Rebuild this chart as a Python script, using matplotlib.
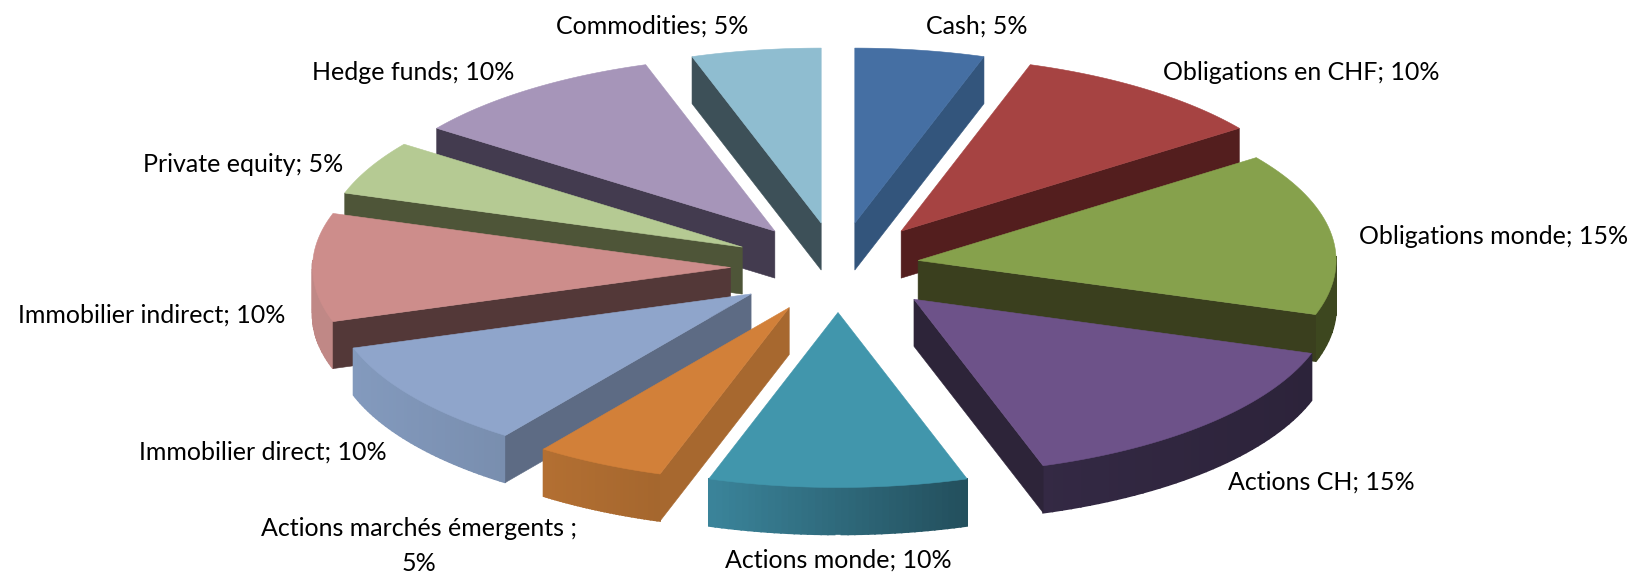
import numpy as np
import matplotlib
matplotlib.use("Agg")
import matplotlib.pyplot as plt
from matplotlib.colors import to_rgb

names = ["Cash", "Obligations en CHF", "Obligations monde", "Actions CH", "Actions monde",
         "Actions marchés émergents", "Immobilier direct", "Immobilier indirect",
         "Private equity", "Hedge funds", "Commodities"]
shares = [5, 10, 15, 15, 10, 5, 10, 10, 5, 10, 5]

top_colors = ["#456fa3", "#a64342", "#86a14c", "#6d5289", "#4196ac", "#d28039",
              "#8fa5cb", "#cd8d8b", "#b5ca93", "#a695b9", "#8fbdd0"]
side_colors = ["#33557c", "#531e1e", "#3a3f1e", "#2d2439", "#2a6072", "#a7682f",
               "#5d6b84", "#533838", "#4e5538", "#433b4f", "#3d5058"]
rim_colors = ["#33557c", "#531e1e", "#3d471f", "#30263f", "#2f6a7c", "#ac6b30",
              "#7e94b6", "#c08886", "#4e5538", "#433b4f", "#3d5058"]
# how much darker the rim gets going left to right
rim_fade = [0, 0, 0, 0.08, 0.25, 0.04, 0.04, 0, 0, 0, 0]

# green slice sits a bit left of where the explode would put it
x_nudge = [0, 0, -26, 0, 0, 0, 0, 0, 0, 0, 0]

cx, cy = 838, 267.5
rx, ry = 418, 175
depth = 47
explode = 0.257

label_pos = [(977, 26), (1301, 72), (1494, 236), (1321, 482), (838, 560), (419, 546),
             (263, 452), (152, 315), (243, 164), (413, 72), (652, 26)]

plt.rcParams['font.family'] = ['Lato', 'DejaVu Sans']
fig = plt.figure(figsize=(16.35, 5.74), dpi=100)
ax = fig.add_axes([0, 0, 1, 1])
ax.set_xlim(0, 1635)
ax.set_ylim(574, 0)
ax.axis("off")

ends = np.cumsum(shares) / np.sum(shares) * 360
starts = ends - np.array(shares) / np.sum(shares) * 360
mids = (starts + ends) / 2


def face(xs, ys, color, z, lw=0.4):
    ax.fill(xs, ys, color=color, lw=lw, zorder=z)


# back slices first
order = np.argsort(-np.cos(np.radians(mids)))
for z, i in enumerate(order):
    a1, a2 = starts[i], ends[i]
    ax0 = cx + x_nudge[i] + explode * rx * np.sin(np.radians(mids[i]))
    ay0 = cy - explode * ry * np.cos(np.radians(mids[i]))
    t = np.radians(np.linspace(a1, a2, 40))
    px = ax0 + rx * np.sin(t)
    py = ay0 - ry * np.cos(t)

    # outer rim, only the part turned to the viewer
    base = np.array(to_rgb(rim_colors[i]))
    for k in range(len(t) - 1):
        if np.cos(t[k]) < 0.03:
            pos = (px[k] - px.min()) / (px.max() - px.min())
            shade = 1 + rim_fade[i] * (0.5 - pos) * 2
            face([px[k], px[k + 1], px[k + 1], px[k]],
                 [py[k], py[k + 1], py[k + 1] + depth, py[k] + depth],
                 tuple(np.clip(base * shade, 0, 1)), 3 * z, lw=1.2)

    # cut faces
    if np.sin(np.radians(a2)) > 0.001:
        face([ax0, px[-1], px[-1], ax0], [ay0, py[-1], py[-1] + depth, ay0 + depth],
             side_colors[i], 3 * z + 1)
    if np.sin(np.radians(a1)) < -0.001:
        face([ax0, px[0], px[0], ax0], [ay0, py[0], py[0] + depth, ay0 + depth],
             side_colors[i], 3 * z + 1)

    face(np.r_[ax0, px], np.r_[ay0, py], top_colors[i], 3 * z + 2)

for i, name in enumerate(names):
    if name == "Actions marchés émergents":
        txt = f"{name} ;\n{shares[i]}%"
    else:
        txt = f"{name}; {shares[i]}%"
    ax.text(label_pos[i][0], label_pos[i][1], txt, ha="center", va="center",
            fontsize=18, color="black", zorder=100, linespacing=1.6)

fig.savefig("out.png", dpi=100)
